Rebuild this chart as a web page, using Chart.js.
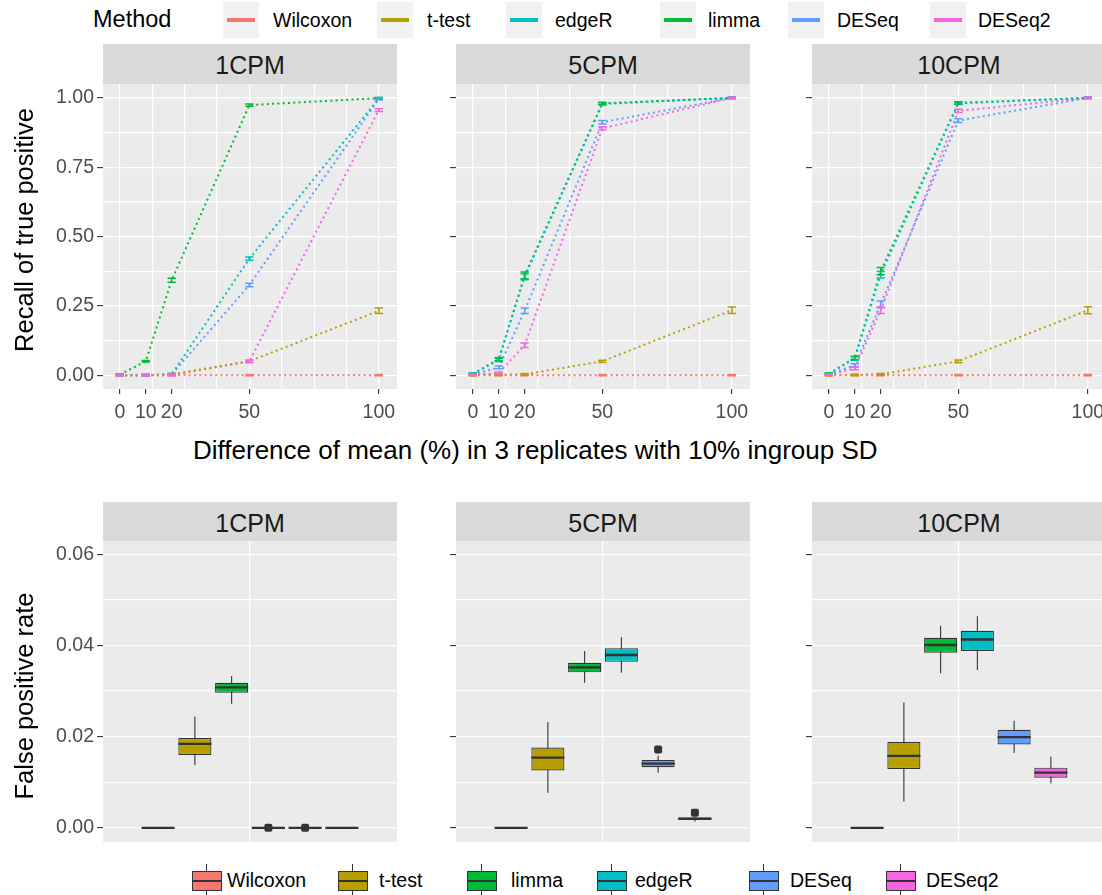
<!DOCTYPE html>
<html>
<head>
<meta charset="utf-8">
<script src="https://cdn.jsdelivr.net/npm/chart.js@4.4.1/dist/chart.umd.min.js"></script>
<style>
html,body{margin:0;padding:0;background:#fff;overflow:hidden;width:1102px;height:895px;}
body{position:relative;font-family:"Liberation Sans",Arial,Helvetica,sans-serif;}
canvas{position:absolute;}
.txt{position:absolute;white-space:nowrap;line-height:1;}
.strip{position:absolute;background:#D9D9D9;color:#1A1A1A;font-size:25px;display:flex;align-items:center;justify-content:center;line-height:1;padding-top:3px;box-sizing:border-box;}
.key{position:absolute;background:#F2F2F2;}
.keyline{position:absolute;height:4px;}
</style>
</head>
<body>
<script>
// ---------------- DATA ----------------
const panels = ['1CPM', '5CPM', '10CPM'];
const methodsTop = ['Wilcoxon', 't-test', 'edgeR', 'limma', 'DESeq', 'DESeq2'];
const methodsBox = ['Wilcoxon', 't-test', 'limma', 'edgeR', 'DESeq', 'DESeq2'];
const methodColors = {
  'Wilcoxon': '#F8766D', 't-test': '#B79F00', 'limma': '#00BA38',
  'edgeR': '#00BFC4', 'DESeq': '#619CFF', 'DESeq2': '#F564E3'
};

// x values (difference of mean, %)
const diffMean = [0, 10, 20, 50, 100];
const xTickLabels = [0, 10, 20, 50, 100];
const xGridLines = [0, 12.5, 25, 37.5, 50, 62.5, 75, 87.5, 100];
const yGridTop = [0, 0.125, 0.25, 0.375, 0.5, 0.625, 0.75, 0.875, 1];
const yLabelsTop = [0, 0.25, 0.5, 0.75, 1];
const yGridBottom = [0, 0.01, 0.02, 0.03, 0.04, 0.05, 0.06];
const yLabelsBottom = [0, 0.02, 0.04, 0.06];

// recall of true positive, rows = [1CPM, 5CPM, 10CPM]
const recallWilcoxon = [[0, 0, 0, 0, 0], [0, 0, 0, 0, 0], [0, 0, 0, 0, 0]];
const recallTtest    = [[0, 0, 0.003, 0.05, 0.232], [0, 0.001, 0.003, 0.05, 0.234], [0, 0.001, 0.003, 0.05, 0.234]];
const recallEdgeR    = [[0, 0, 0.003, 0.42, 0.998], [0.005, 0.058, 0.355, 0.978, 1.0], [0.005, 0.06, 0.362, 0.98, 1.0]];
const recallLimma    = [[0.002, 0.05, 0.342, 0.974, 0.999], [0.004, 0.055, 0.36, 0.98, 1.0], [0.005, 0.062, 0.375, 0.982, 1.0]];
const recallDESeq    = [[0, 0, 0.002, 0.325, 0.996], [0.002, 0.028, 0.232, 0.912, 1.0], [0.003, 0.035, 0.255, 0.918, 1.0]];
const recallDESeq2   = [[0, 0, 0, 0.05, 0.956], [0.001, 0.008, 0.108, 0.89, 1.0], [0.002, 0.024, 0.234, 0.953, 1.0]];

// error-bar half widths
const seWilcoxon = [[0.002, 0.002, 0.002, 0.002, 0.002], [0.002, 0.002, 0.002, 0.002, 0.002], [0.002, 0.002, 0.002, 0.002, 0.002]];
const seTtest    = [[0.002, 0.002, 0.003, 0.004, 0.010], [0.002, 0.002, 0.003, 0.004, 0.012], [0.002, 0.002, 0.003, 0.005, 0.013]];
const seEdgeR    = [[0.002, 0.002, 0.003, 0.006, 0.003], [0.003, 0.006, 0.011, 0.004, 0.002], [0.003, 0.006, 0.012, 0.004, 0.002]];
const seLimma    = [[0.002, 0.003, 0.007, 0.004, 0.002], [0.003, 0.006, 0.012, 0.004, 0.002], [0.003, 0.006, 0.013, 0.004, 0.002]];
const seDESeq    = [[0.002, 0.002, 0.002, 0.006, 0.004], [0.002, 0.005, 0.010, 0.006, 0.002], [0.002, 0.006, 0.012, 0.007, 0.002]];
const seDESeq2   = [[0.002, 0.002, 0.002, 0.004, 0.005], [0.002, 0.003, 0.008, 0.006, 0.002], [0.002, 0.005, 0.012, 0.006, 0.002]];

// false positive rate box statistics, rows = panels, columns = methodsBox order
const fprLowWhisker  = [[0, 0.0138, 0.0272, 0, 0, 0], [0, 0.0077, 0.0318, 0.0340, 0.0121, 0.0014], [0, 0.0058, 0.0339, 0.0346, 0.0164, 0.0098]];
const fprQ1          = [[0, 0.0160, 0.0296, 0, 0, 0], [0, 0.0126, 0.0341, 0.0364, 0.0133, 0.00175], [0, 0.0129, 0.0384, 0.0388, 0.0183, 0.0110]];
const fprMedian      = [[0, 0.0184, 0.0308, 0, 0, 0], [0, 0.0154, 0.0352, 0.0379, 0.0141, 0.0020], [0, 0.0158, 0.0401, 0.0413, 0.0199, 0.0121]];
const fprQ3          = [[0, 0.0197, 0.0318, 0, 0, 0], [0, 0.0176, 0.0362, 0.0394, 0.0149, 0.00226], [0, 0.0188, 0.0417, 0.0432, 0.0215, 0.0132]];
const fprHighWhisker = [[0, 0.0244, 0.0333, 0, 0, 0], [0, 0.0232, 0.0388, 0.0418, 0.0158, 0.0024], [0, 0.0275, 0.0443, 0.0464, 0.0235, 0.0156]];
const fprOutliers    = [[[], [], [], [0], [0], []], [[], [], [], [], [0.0172], [0.0033]], [[], [], [], [], [], []]];

// lookup tables built from the arrays above
const recallByMethod = {'Wilcoxon': recallWilcoxon, 't-test': recallTtest, 'edgeR': recallEdgeR, 'limma': recallLimma, 'DESeq': recallDESeq, 'DESeq2': recallDESeq2};
const seByMethod = {'Wilcoxon': seWilcoxon, 't-test': seTtest, 'edgeR': seEdgeR, 'limma': seLimma, 'DESeq': seDESeq, 'DESeq2': seDESeq2};

// ---------------- LAYOUT ----------------
const FONT = '"Liberation Sans", Arial, Helvetica, sans-serif';
Chart.defaults.font.family = FONT;
const panelLefts = [103, 456, 812];
const panelW = 294;
const topPanelTop = 84, topPanelH = 305;
const botPanelTop = 541, botPanelH = 301;
const CLEAR = 'rgba(0,0,0,0)';
const isIn = (arr, v) => arr.some(a => Math.abs(a - v) < 1e-9);

function makeCanvas(left, top, w, h) {
  const c = document.createElement('canvas');
  c.width = w; c.height = h;
  c.style.left = left + 'px'; c.style.top = top + 'px';
  c.style.width = w + 'px'; c.style.height = h + 'px';
  document.body.appendChild(c);
  return c;
}
function addText(txt, left, cy, size, color, extra) {
  const d = document.createElement('div');
  d.className = 'txt';
  d.textContent = txt;
  d.style.fontSize = size + 'px';
  d.style.color = color;
  d.style.left = left + 'px';
  d.style.top = (cy - size * 0.49) + 'px';
  if (extra) Object.assign(d.style, extra);
  document.body.appendChild(d);
  return d;
}
function addStrip(label, left, top, w, h) {
  const d = document.createElement('div');
  d.className = 'strip';
  d.textContent = label;
  Object.assign(d.style, {left: left + 'px', top: top + 'px', width: w + 'px', height: h + 'px'});
  document.body.appendChild(d);
}

const panelBg = {
  id: 'panelBg',
  beforeDraw(chart) {
    const {ctx, chartArea: a} = chart;
    ctx.save();
    ctx.fillStyle = '#EBEBEB';
    ctx.fillRect(a.left, a.top, a.right - a.left, a.bottom - a.top);
    ctx.restore();
  }
};

const errorBars = {
  id: 'errorBars',
  afterDatasetsDraw(chart) {
    const {ctx, scales: {x, y}} = chart;
    ctx.save();
    ctx.lineWidth = 1.5;
    ctx.setLineDash([]);
    chart.data.datasets.forEach(ds => {
      ctx.strokeStyle = ds.borderColor;
      ds.data.forEach((p, i) => {
        const e = ds.errors[i];
        const px = x.getPixelForValue(p.x);
        const half = Math.abs(x.getPixelForValue(p.x + 1.6) - px);
        const y1 = y.getPixelForValue(p.y - e);
        const y2 = y.getPixelForValue(p.y + e);
        ctx.beginPath();
        ctx.moveTo(px, y1); ctx.lineTo(px, y2);
        ctx.moveTo(px - half, y1); ctx.lineTo(px + half, y1);
        ctx.moveTo(px - half, y2); ctx.lineTo(px + half, y2);
        ctx.stroke();
      });
    });
    ctx.restore();
  }
};

function topChart(p) {
  const yW = p === 0 ? 103 : 10;
  const xH = 45;
  const c = makeCanvas(panelLefts[p] - yW, topPanelTop, yW + panelW, topPanelH + xH);
  const allX = [...new Set([...xGridLines, ...xTickLabels])].sort((a, b) => a - b);
  new Chart(c, {
    type: 'line',
    data: {
      datasets: methodsTop.map(m => ({
        label: m,
        data: diffMean.map((xv, i) => ({x: xv, y: recallByMethod[m][p][i]})),
        errors: seByMethod[m][p],
        borderColor: methodColors[m],
        borderWidth: 2,
        borderDash: [2, 3.3],
        borderCapStyle: 'butt',
        pointRadius: 0, pointHoverRadius: 0,
        tension: 0, fill: false, clip: false
      }))
    },
    options: {
      responsive: false, animation: false, devicePixelRatio: 1, events: [],
      layout: {padding: 0, autoPadding: false},
      plugins: {legend: {display: false}, tooltip: {enabled: false}},
      scales: {
        x: {
          type: 'linear', min: -6.5, max: 107,
          afterBuildTicks: s => { s.ticks = allX.map(v => ({value: v})); },
          afterFit: s => { s.height = xH; s.paddingLeft = 0; s.paddingRight = 0; },
          grid: {
            color: ctx => (ctx.tick && isIn(xGridLines, ctx.tick.value)) ? '#FFFFFF' : CLEAR,
            lineWidth: 1.2,
            tickColor: ctx => (ctx.tick && isIn(xTickLabels, ctx.tick.value)) ? '#333333' : CLEAR,
            tickLength: 5, tickWidth: 1.1
          },
          border: {display: false},
          ticks: {
            autoSkip: false, maxRotation: 0, minRotation: 0, padding: 7,
            color: '#4D4D4D', font: {size: 19.5},
            callback: v => isIn(xTickLabels, v) ? String(v) : ''
          }
        },
        y: {
          min: -0.05, max: 1.05,
          afterBuildTicks: s => { s.ticks = yGridTop.map(v => ({value: v})); },
          afterFit: s => { s.width = yW; s.paddingTop = 0; s.paddingBottom = 0; },
          grid: {
            color: '#FFFFFF', lineWidth: 1.2,
            tickColor: ctx => (ctx.tick && isIn(yLabelsTop, ctx.tick.value)) ? '#333333' : CLEAR,
            tickLength: 6, tickWidth: 1.1
          },
          border: {display: false},
          ticks: {
            autoSkip: false, padding: 3, color: '#4D4D4D', font: {size: 19.5},
            callback: v => (p === 0 && isIn(yLabelsTop, v)) ? v.toFixed(2) : ''
          }
        }
      }
    },
    plugins: [panelBg, errorBars]
  });
}

function boxPlugin(p) {
  return {
    id: 'boxplot' + p,
    beforeDatasetsDraw(chart) {
      const {ctx, scales: {y}} = chart;
      const meta = chart.getDatasetMeta(0);
      ctx.save();
      ctx.strokeStyle = '#333333'; ctx.lineWidth = 1.1;
      methodsBox.forEach((m, i) => {
        const el = meta.data[i + 1];
        ctx.beginPath();
        ctx.moveTo(el.x, y.getPixelForValue(fprLowWhisker[p][i]));
        ctx.lineTo(el.x, y.getPixelForValue(fprHighWhisker[p][i]));
        ctx.stroke();
      });
      ctx.restore();
    },
    afterDatasetsDraw(chart) {
      const {ctx, scales: {y}} = chart;
      const meta = chart.getDatasetMeta(0);
      ctx.save();
      methodsBox.forEach((m, i) => {
        const el = meta.data[i + 1];
        const half = el.width / 2;
        const ym = y.getPixelForValue(fprMedian[p][i]);
        ctx.strokeStyle = '#333333'; ctx.lineWidth = 2.3;
        ctx.beginPath();
        ctx.moveTo(el.x - half, ym); ctx.lineTo(el.x + half, ym);
        ctx.stroke();
        ctx.fillStyle = '#333333';
        fprOutliers[p][i].forEach(v => {
          const oy = y.getPixelForValue(v);
          ctx.beginPath();
          if (ctx.roundRect) ctx.roundRect(el.x - 4, oy - 4, 8, 8, 2);
          else ctx.rect(el.x - 4, oy - 4, 8, 8);
          ctx.fill();
        });
      });
      ctx.restore();
    }
  };
}

function bottomChart(p) {
  const yW = p === 0 ? 103 : 10;
  const c = makeCanvas(panelLefts[p] - yW, botPanelTop, yW + panelW, botPanelH);
  const labels = ['', ...methodsBox, ' '];
  const centerLine = Math.floor(labels.length / 2);
  new Chart(c, {
    type: 'bar',
    data: {
      labels: labels,
      datasets: [{
        data: [null, ...methodsBox.map((m, i) => [fprQ1[p][i], fprQ3[p][i]]), null],
        backgroundColor: [CLEAR, ...methodsBox.map(m => methodColors[m]), CLEAR],
        borderColor: '#333333', borderWidth: 1.2, borderSkipped: false,
        categoryPercentage: 1, barPercentage: 0.9
      }]
    },
    options: {
      responsive: false, animation: false, devicePixelRatio: 1, events: [],
      layout: {padding: 0, autoPadding: false},
      plugins: {legend: {display: false}, tooltip: {enabled: false}},
      scales: {
        x: {
          type: 'category', offset: true,
          afterFit: s => { s.height = 0; s.paddingLeft = 0; s.paddingRight = 0; },
          grid: {offset: true, color: ctx => ctx.index === centerLine ? '#FFFFFF' : CLEAR, lineWidth: 1.2, drawTicks: false},
          border: {display: false},
          ticks: {display: false, autoSkip: false}
        },
        y: {
          min: -0.0031, max: 0.0629,
          afterBuildTicks: s => { s.ticks = yGridBottom.map(v => ({value: v})); },
          afterFit: s => { s.width = yW; s.paddingTop = 0; s.paddingBottom = 0; },
          grid: {
            color: '#FFFFFF', lineWidth: 1.2,
            tickColor: ctx => (ctx.tick && isIn(yLabelsBottom, ctx.tick.value)) ? '#333333' : CLEAR,
            tickLength: 6, tickWidth: 1.1
          },
          border: {display: false},
          ticks: {
            autoSkip: false, padding: 3, color: '#4D4D4D', font: {size: 19.5},
            callback: v => (p === 0 && isIn(yLabelsBottom, v)) ? v.toFixed(2) : ''
          }
        }
      }
    },
    plugins: [panelBg, boxPlugin(p)]
  });
}

// strips
panels.forEach((lab, p) => {
  addStrip(lab, panelLefts[p], 44, panelW, 40);
  addStrip(lab, panelLefts[p], 502, panelW, 39);
});

panels.forEach((lab, p) => { topChart(p); bottomChart(p); });

// axis titles
addText('Difference of mean (%) in 3 replicates with 10% ingroup SD', 193, 450, 26, '#000');
const yt1 = addText('Recall of true positive', 0, 0, 25.5, '#000');
Object.assign(yt1.style, {left: '25px', top: '230px', transform: 'translate(-50%,-50%) rotate(-90deg)'});
const yt2 = addText('False positive rate', 0, 0, 25.5, '#000');
Object.assign(yt2.style, {left: '25px', top: '696px', transform: 'translate(-50%,-50%) rotate(-90deg)'});

// top legend
addText('Method', 93, 20, 23.5, '#000');
const topKeyX = [223, 377, 506, 660, 788, 930];
const topTextX = [273, 427, 555, 708, 837, 978];
methodsTop.forEach((m, i) => {
  const k = document.createElement('div');
  k.className = 'key';
  Object.assign(k.style, {left: topKeyX[i] + 'px', top: '2px', width: '36px', height: '36px'});
  const ln = document.createElement('div');
  ln.className = 'keyline';
  Object.assign(ln.style, {left: '4px', top: '16px', width: '28px', background: methodColors[m]});
  k.appendChild(ln);
  document.body.appendChild(k);
  addText(m, topTextX[i], 21, 19.5, '#000');
});

// bottom legend
const botKeyX = [192, 338, 467, 597, 749, 886];
const botTextX = [227, 379, 511, 635, 790, 926];
methodsBox.forEach((m, i) => {
  const k = document.createElement('div');
  Object.assign(k.style, {position: 'absolute', left: botKeyX[i] + 'px', top: '864px', width: '30px', height: '34px'});
  const wh = document.createElement('div');
  Object.assign(wh.style, {position: 'absolute', left: '14px', top: '0px', width: '1.2px', height: '34px', background: '#333'});
  const bx = document.createElement('div');
  Object.assign(bx.style, {position: 'absolute', left: '0px', top: '7px', width: '30px', height: '20px', background: methodColors[m], border: '1.2px solid #333', boxSizing: 'border-box'});
  const md = document.createElement('div');
  Object.assign(md.style, {position: 'absolute', left: '0px', top: '16px', width: '30px', height: '2px', background: '#333'});
  k.appendChild(wh); k.appendChild(bx); k.appendChild(md);
  document.body.appendChild(k);
  addText(m, botTextX[i], 881, 19.5, '#000');
});
</script>
</body>
</html>
